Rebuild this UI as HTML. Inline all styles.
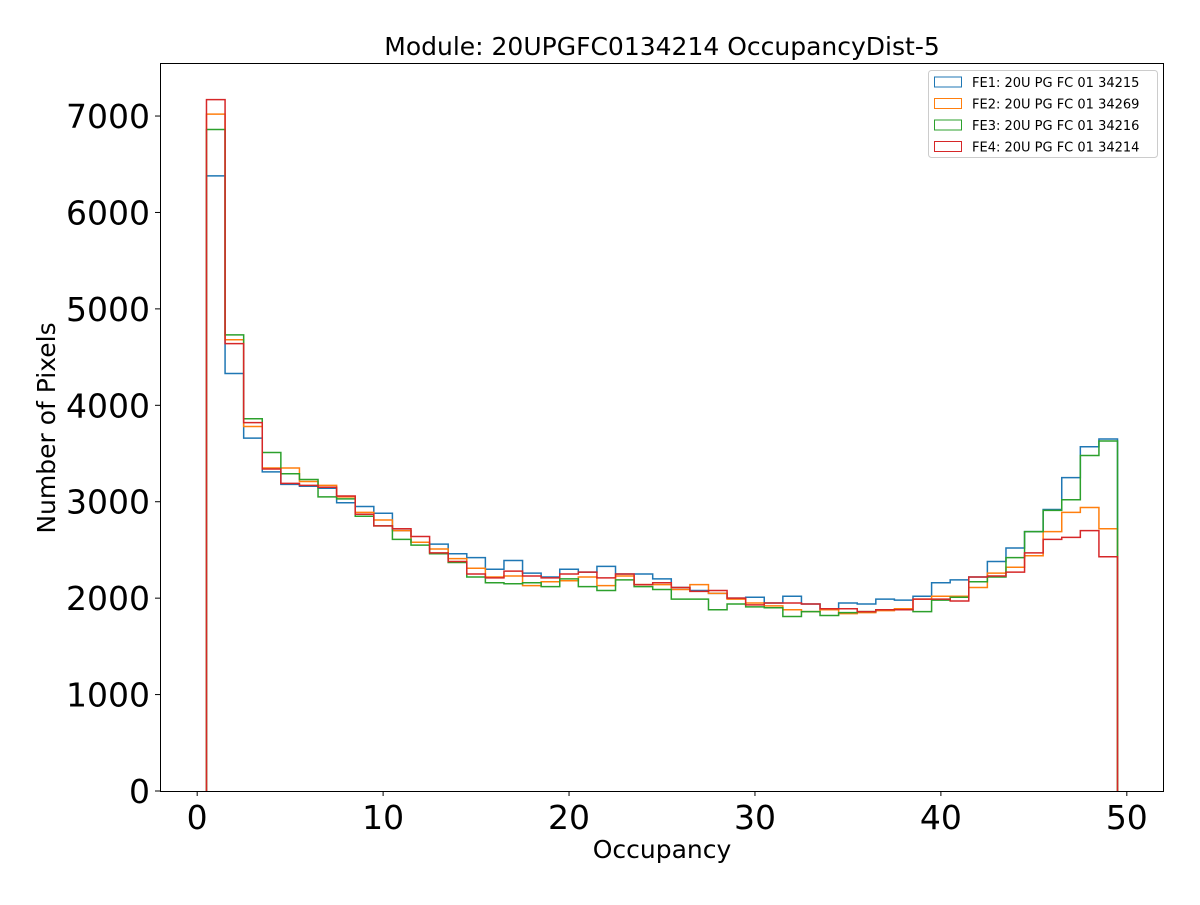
<!DOCTYPE html>
<html><head><meta charset="utf-8"><style>
body{margin:0;background:#fff;}
svg text{font-family:"DejaVu Sans","Liberation Sans",sans-serif;}
</style></head><body>
<svg id="chart" width="1200" height="900" viewBox="0 0 1200 900" xmlns="http://www.w3.org/2000/svg">
<rect width="1200" height="900" fill="#fff"/>
<text x="662" y="55" font-size="25" text-anchor="middle">Module: 20UPGFC0134214 OccupancyDist-5</text>
<g id="series"></g>
<rect x="160.5" y="63.5" width="1003" height="728" fill="none" stroke="#000" stroke-width="1"/>
<g id="axes"></g>
<text x="662" y="858" font-size="25" text-anchor="middle">Occupancy</text>
<text x="0" y="0" font-size="25" text-anchor="middle" transform="translate(55,428) rotate(-90)">Number of Pixels</text>
<g id="legend"></g>
</svg>
<script>
const xTicks=[0,10,20,30,40,50];
const yTicks=[0,1000,2000,3000,4000,5000,6000,7000];
const seriesNames=["FE1: 20U PG FC 01 34215","FE2: 20U PG FC 01 34269","FE3: 20U PG FC 01 34216","FE4: 20U PG FC 01 34214"];
const colors=["#1f77b4","#ff7f0e","#2ca02c","#d62728"];
const fe1=[6380,4330,3660,3310,3180,3160,3140,2990,2950,2880,2700,2580,2560,2460,2420,2300,2390,2260,2220,2300,2270,2330,2250,2250,2200,2110,2080,2050,2000,2010,1950,2020,1940,1880,1950,1940,1990,1980,2020,2160,2190,2220,2380,2520,2690,2920,3250,3570,3650];
const fe2=[7020,4680,3780,3350,3350,3210,3170,3050,2890,2810,2700,2580,2510,2410,2310,2220,2230,2130,2170,2180,2220,2130,2230,2140,2140,2090,2140,2050,1990,1950,1920,1880,1860,1880,1840,1850,1870,1890,1990,2020,2020,2110,2260,2320,2440,2690,2890,2940,2720];
const fe3=[6860,4730,3860,3510,3290,3230,3050,3030,2850,2750,2610,2550,2460,2370,2220,2160,2150,2160,2120,2200,2120,2080,2190,2120,2090,1990,1990,1880,1940,1910,1900,1810,1860,1820,1850,1860,1880,1880,1860,1980,2010,2170,2220,2420,2690,2910,3020,3480,3630];
const fe4=[7170,4640,3820,3340,3190,3170,3150,3060,2870,2750,2720,2640,2470,2380,2250,2210,2280,2230,2210,2250,2270,2210,2250,2140,2160,2110,2070,2080,2000,1930,1950,1950,1940,1890,1890,1860,1880,1880,1990,1990,1970,2220,2230,2270,2470,2610,2630,2700,2430];
const allSeries=[fe1,fe2,fe3,fe4];
const firstEdge=0.5, binWidth=1;
const X0=160,X1=1164,Y0=791,Y1=63,XMIN=-2,XMAX=52,YMIN=0,YMAX=7550;
const sx=v=>X0+(v-XMIN)/(XMAX-XMIN)*(X1-X0);
const sy=v=>Y0-(v-YMIN)/(YMAX-YMIN)*(Y0-Y1);
const NS="http://www.w3.org/2000/svg";
const sg=document.getElementById('series');
allSeries.forEach((vals,i)=>{
  let d=`M${sx(firstEdge)},${sy(0)}`;
  vals.forEach((v,j)=>{const a=firstEdge+j*binWidth;d+=` L${sx(a)},${sy(v)} L${sx(a+binWidth)},${sy(v)}`;});
  d+=` L${sx(firstEdge+vals.length*binWidth)},${sy(0)}`;
  const p=document.createElementNS(NS,'path');
  p.setAttribute('d',d);p.setAttribute('fill','none');p.setAttribute('stroke',colors[i]);p.setAttribute('stroke-width','1.5');
  
  
  sg.appendChild(p);
});
const ag=document.getElementById('axes');
xTicks.forEach(t=>{
  const l=document.createElementNS(NS,'line');
  l.setAttribute('x1',sx(t));l.setAttribute('x2',sx(t));l.setAttribute('y1',Y0);l.setAttribute('y2',Y0+5);l.setAttribute('stroke','#000');
  
  
  ag.appendChild(l);
  const tx=document.createElementNS(NS,'text');
  tx.setAttribute('x',sx(t));tx.setAttribute('y',Y0+38);tx.setAttribute('font-size','33');tx.setAttribute('text-anchor','middle');tx.textContent=t;
  
  
  ag.appendChild(tx);
});
yTicks.forEach(t=>{
  const l=document.createElementNS(NS,'line');
  l.setAttribute('x1',X0-5);l.setAttribute('x2',X0);l.setAttribute('y1',sy(t));l.setAttribute('y2',sy(t));l.setAttribute('stroke','#000');
  
  
  ag.appendChild(l);
  const tx=document.createElementNS(NS,'text');
  tx.setAttribute('x',X0-10);tx.setAttribute('y',sy(t)+12);tx.setAttribute('font-size','33');tx.setAttribute('text-anchor','end');tx.textContent=t;
  
  
  ag.appendChild(tx);
});
const lg=document.getElementById('legend');
const box=document.createElementNS(NS,'rect');
box.setAttribute('x',928.5);box.setAttribute('y',70.5);box.setAttribute('width',229);box.setAttribute('height',87);box.setAttribute('rx',3);
box.setAttribute('fill','#fff');box.setAttribute('fill-opacity','0.8');box.setAttribute('stroke','#ccc');


lg.appendChild(box);
seriesNames.forEach((n,i)=>{
  const y=82+i*21.5;
  const r=document.createElementNS(NS,'rect');
  r.setAttribute('x',934.5);r.setAttribute('y',y-5);r.setAttribute('width',27);r.setAttribute('height',10);r.setAttribute('fill','none');r.setAttribute('stroke',colors[i]);
  
  
  lg.appendChild(r);
  const t=document.createElementNS(NS,'text');
  t.setAttribute('x',972);t.setAttribute('y',y+5);t.setAttribute('font-size','13');t.textContent=n;
  
  
  lg.appendChild(t);
});
</script>
</body></html>
